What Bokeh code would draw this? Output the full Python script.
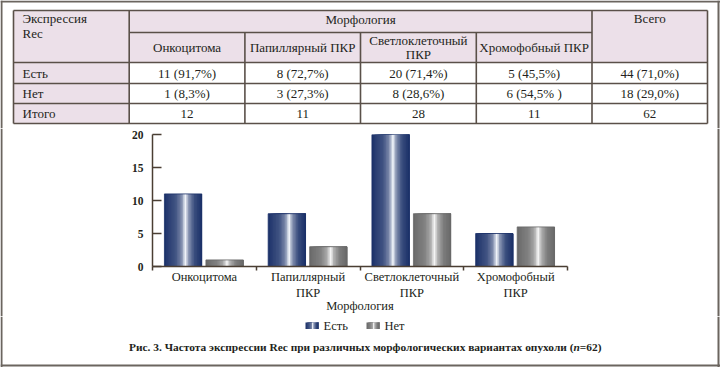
import numpy as np
from bokeh.plotting import figure
from bokeh.layouts import column, row
from bokeh.models import Range1d, FixedTicker, LinearAxis, ColumnDataSource
from bokeh.core.properties import value
from bokeh.embed import file_html
from bokeh.resources import INLINE

# ---------------- data ----------------
categories = ["Онкоцитома", "Папиллярный ПКР", "Светлоклеточный ПКР", "Хромофобный ПКР"]
axis_labels = ["Онкоцитома", "Папиллярный\nПКР", "Светлоклеточный\nПКР", "Хромофобный\nПКР"]
header_labels = ["Онкоцитома", "Папиллярный ПКР", "Светлоклеточный\nПКР", "Хромофобный ПКР"]
series_names = ["Есть", "Нет"]
yes_counts = [11, 8, 20, 5]
no_counts = [1, 3, 8, 6]
row_labels = ["Есть", "Нет", "Итого"]
yes_cells = ["11 (91,7%)", "8 (72,7%)", "20 (71,4%)", "5 (45,5%)", "44 (71,0%)"]
no_cells = ["1 (8,3%)", "3 (27,3%)", "8 (28,6%)", "6 (54,5% )", "18 (29,0%)"]
total_cells = ["12", "11", "28", "11", "62"]
y_ticks = [0, 5, 10, 15, 20]
caption_main = "Рис. 3. Частота экспрессии Rec при различных морфологических вариантах опухоли ("
caption_n = "n"
caption_end = "=62)"

# ---------------- styles ----------------
FONT = "Liberation Serif"
TXT = "#231f20"
BORDER = "#6b655f"
LINEC = "#5a5049"
HEAD = "#ece0e9"
AX = "#4a3e33"
W = 720


def blank(w, h, xr, yr):
    f = figure(width=w, height=h, x_range=xr, y_range=yr, output_backend="svg",
               toolbar_location=None, tools="", x_axis_location=None,
               y_axis_location=None, min_border=0, min_border_left=0,
               min_border_right=0, min_border_top=0, min_border_bottom=0,
               frame_align=False)
    f.grid.visible = False
    f.outline_line_color = None
    f.background_fill_color = "white"
    f.border_fill_color = "white"
    return f


def shade(dark, light, t):
    px = [0.0, 0.08, 0.3, 0.46, 0.56, 0.65, 0.8, 1.0]
    py = [0.0, 0.06, 0.18, 0.45, 1.0, 0.5, 0.15, 0.0]
    f = float(np.interp(t, px, py))
    r = [int(round(d + (l - d) * f)) for d, l in zip(dark, light)]
    return "#%02x%02x%02x" % tuple(r)


NAVY = ((26, 48, 104), (242, 245, 250))
GRAY = ((104, 104, 104), (246, 246, 246))

# ---------------- table figure ----------------
T_H = 128
t = blank(W, T_H, Range1d(0, W), Range1d(T_H, 0))
ce = [13, 128.7, 244.4, 360.0, 475.8, 591.5, 707]
re_ = [10, 32, 62, 83, 103, 123]

t.quad(left=[ce[0]], right=[ce[-1]], top=[re_[0]], bottom=[re_[2]], fill_color=HEAD, line_color=None)
t.quad(left=[ce[0]], right=[ce[1]], top=[re_[2]], bottom=[re_[5]], fill_color=HEAD, line_color=None)

hx0 = [ce[0], ce[1], ce[0], ce[0], ce[0], ce[0]]
hx1 = [ce[-1], ce[5], ce[-1], ce[-1], ce[-1], ce[-1]]
hy = list(re_)
t.segment(x0=hx0, x1=hx1, y0=hy, y1=hy, line_color=LINEC, line_width=1.6)
vx = ce
vy0 = [re_[0], re_[0], re_[1], re_[1], re_[1], re_[0], re_[0]]
vy1 = [re_[5]] * 7
t.segment(x0=vx, x1=vx, y0=vy0, y1=vy1, line_color=LINEC, line_width=1.6)

# outer border (top + sides)
t.quad(left=[0, 717, 0], right=[2, 719, W], top=[0, 0, 0], bottom=[T_H, T_H, 2],
       fill_color=BORDER, line_color=None)

tx, ty, tt, ta = [], [], [], []
tx += [22, 22]; ty += [18, 33]; tt += ["Экспрессия", "Rec"]; ta += ["left", "left"]
tx.append((ce[1] + ce[5]) / 2); ty.append(19); tt.append("Морфология"); ta.append("center")
tx.append((ce[5] + ce[6]) / 2); ty.append(18); tt.append("Всего"); ta.append("center")
for i, lab in enumerate(header_labels):
    cx = (ce[i + 1] + ce[i + 2]) / 2
    parts = lab.split("\n")
    if len(parts) == 1:
        tx.append(cx); ty.append(47); tt.append(parts[0]); ta.append("center")
    else:
        tx += [cx, cx]; ty += [40, 54]; tt += parts; ta += ["center", "center"]
row_y = [(re_[2] + re_[3]) / 2, (re_[3] + re_[4]) / 2, (re_[4] + re_[5]) / 2]
for r, (lab, cells) in enumerate(zip(row_labels, [yes_cells, no_cells, total_cells])):
    tx.append(22); ty.append(row_y[r]); tt.append(lab); ta.append("left")
    for k, cell in enumerate(cells):
        tx.append((ce[k + 1] + ce[k + 2]) / 2); ty.append(row_y[r]); tt.append(cell); ta.append("center")
tsrc = ColumnDataSource(dict(x=tx, y=ty, text=tt, align=ta))
t.text(x="x", y="y", text="text", text_align="align", text_baseline="middle",
       text_font=value(FONT), text_font_size="13px", text_color=TXT, source=tsrc)

# ---------------- chart row ----------------
C_H = 188
LS_W, C_W = 127, 465
RS_W = W - LS_W - C_W
left_strip = blank(LS_W, C_H, Range1d(0, LS_W), Range1d(C_H, 0))
left_strip.quad(left=[0], right=[2], top=[0], bottom=[C_H], fill_color=BORDER, line_color=None)
right_strip = blank(RS_W, C_H, Range1d(0, RS_W), Range1d(C_H, 0))
rx = 717 - LS_W - C_W
right_strip.quad(left=[rx], right=[rx + 2], top=[0], bottom=[C_H], fill_color=BORDER, line_color=None)

c = figure(width=C_W, height=C_H, x_range=Range1d(0, len(categories)), y_range=Range1d(0, 20),
           output_backend="svg", toolbar_location=None, tools="",
           x_axis_location=None, y_axis_location=None, frame_align=False,
           min_border_left=25, min_border_right=25, min_border_top=6, min_border_bottom=48)
c.grid.visible = False
c.outline_line_color = None
c.background_fill_color = "white"
c.border_fill_color = "white"

# bars: gradient built from layered slices (each slice runs to the bar's right edge,
# painted left to right, so no seams appear)
bar_w = 0.36
offsets = [-0.205, 0.195]
n_strips = 24
for counts, off, pal in [(yes_counts, offsets[0], NAVY), (no_counts, offsets[1], GRAY)]:
    xs, ws, tops, cols = [], [], [], []
    for i, v in enumerate(counts):
        cx = i + 0.5 + off
        right = cx + bar_w / 2
        for j in range(n_strips):
            left = cx - bar_w / 2 + bar_w * j / n_strips
            xs.append((left + right) / 2)
            ws.append(right - left)
            tops.append(v)
            cols.append(shade(pal[0], pal[1], (j + 0.5) / n_strips))
    c.vbar(x=xs, top=tops, bottom=0, width=ws, fill_color=cols, line_color=None)
    c.vbar(x=[i + 0.5 + off for i in range(len(counts))], top=counts, bottom=0, width=bar_w,
           fill_color=None, line_color="#%02x%02x%02x" % pal[0], line_width=0.8)

ya = LinearAxis(ticker=FixedTicker(ticks=y_ticks, minor_ticks=[]),
                major_tick_in=9, major_tick_out=0, minor_tick_in=0, minor_tick_out=0,
                axis_line_color=AX, axis_line_width=1.5, major_tick_line_color=AX,
                major_tick_line_width=1.5, major_label_standoff=9,
                major_label_text_font=FONT, major_label_text_font_size="11.5px",
                major_label_text_font_style="bold", major_label_text_color=TXT)
c.add_layout(ya, "left")

centers = [i + 0.5 for i in range(len(categories))]
bounds = list(range(len(categories) + 1))
xa = LinearAxis(ticker=FixedTicker(ticks=centers, minor_ticks=bounds),
                major_label_overrides={cx: lab for cx, lab in zip(centers, axis_labels)},
                major_tick_in=0, major_tick_out=0, major_tick_line_color=None,
                minor_tick_in=0, minor_tick_out=4, minor_tick_line_color=AX, minor_tick_line_width=1.5,
                axis_line_color=AX, axis_line_width=1.5, major_label_standoff=-1,
                major_label_text_font=FONT, major_label_text_font_size="12.5px",
                major_label_text_color=TXT,
                axis_label="Морфология", axis_label_standoff=-4, axis_label_text_font=FONT,
                axis_label_text_font_size="12.5px", axis_label_text_font_style="normal",
                axis_label_text_color=TXT)
c.add_layout(xa, "below")

# ---------------- bottom (legend + caption) ----------------
B_H = 367 - T_H - C_H
b = blank(W, B_H, Range1d(0, W), Range1d(B_H, 0))
b.quad(left=[0, 717, 0], right=[2, 719, W], top=[0, 0, B_H - 3], bottom=[B_H, B_H, B_H - 1],
       fill_color=BORDER, line_color=None)

Y0 = T_H + C_H  # page y of the bottom figure's top edge
leg_x = [305, 366]
n_leg = 10
for lx, pal, name in zip(leg_x, [NAVY, GRAY], series_names):
    lw = 13.0
    ls = [lx + lw * j / n_leg for j in range(n_leg)]
    rs = [lx + lw] * n_leg
    cols = [shade(pal[0], pal[1], (j + 0.5) / n_leg) for j in range(n_leg)]
    b.quad(left=ls, right=rs, top=[322 - Y0] * n_leg, bottom=[328.5 - Y0] * n_leg,
           fill_color=cols, line_color=None)
    b.text(x=[lx + lw + 5], y=[325.5 - Y0], text=[name], text_align="left", text_baseline="middle",
           text_font=value(FONT), text_font_size="12.5px", text_color=TXT)

cap_x = 573
cap_y = 346 - Y0
b.text(x=[cap_x], y=[cap_y], text=[caption_main], text_align="right", text_baseline="middle",
       text_font=value(FONT), text_font_size="11.4px", text_font_style="bold", text_color=TXT)
b.text(x=[cap_x], y=[cap_y], text=[caption_n], text_align="left", text_baseline="middle",
       text_font=value(FONT), text_font_size="11.4px", text_font_style="bold italic", text_color=TXT)
b.text(x=[cap_x + 6.3], y=[cap_y], text=[caption_end], text_align="left", text_baseline="middle",
       text_font=value(FONT), text_font_size="11.4px", text_font_style="bold", text_color=TXT)

layout = column(t, row(left_strip, c, right_strip), b)
open("out.html", "w").write(file_html(layout, INLINE, title="Экспрессия Rec"))
